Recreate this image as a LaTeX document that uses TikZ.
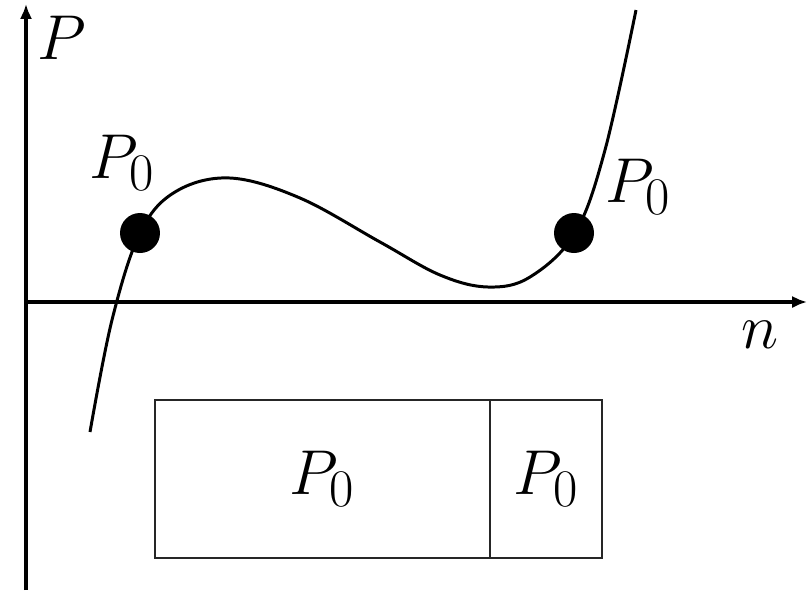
\documentclass[tikz,border=0pt]{standalone}
\usepackage{graphicx}
\usetikzlibrary{arrows.meta}
\newcommand{\sym}[1]{\scalebox{1.45}{$#1$}}
\tikzset{
  lbl/.style={inner sep=0pt, font=\Huge},
  dot/.style={circle, fill=black, minimum size=0.8cm, inner sep=0pt},
  cell/.style={draw=black!85, line width=1.1pt, inner sep=0pt, outer sep=0pt,
               minimum height=3.16cm, font=\Huge}
}
\begin{document}
\begin{tikzpicture}[x=0.02cm, y=-0.02cm, >={Latex[length=8.5pt, width=7pt]}]
\useasboundingbox (0,0) rectangle (810,593);
% axes
\coordinate (o) at (26,302);
\coordinate (ybot) at (26,590);
\coordinate (ytop) at (26,4);
\coordinate (xend) at (807,302);
\draw[->, line width=2.2pt] (ybot) -- (ytop);
\draw[->, line width=2.2pt] (o) -- (xend);
\node[lbl] (plab) at (62,38) {\sym{P}};
\node[lbl] (nlab) at (760,335) {\sym{n}};
% curve
\draw[line width=1.7pt] plot[smooth, tension=0.6] coordinates
  {(90,432) (112,320) (140,233) (175,192) (230,178) (300,198) (380,242)
   (440,275) (488,287) (530,277) (575,233) (605,150) (636,10)};
\node[dot] (d1) at (140,233) {};
\node[dot] (d2) at (574,233) {};
\node[lbl] (l1) at (122,163) {\sym{P_0}};
\node[lbl] (l2) at (638,187) {\sym{P_0}};
% boxes
\node[cell, minimum width=6.7cm] (bl) at (322.5,479) {\sym{P_0}};
\node[cell, minimum width=2.24cm, anchor=west] (br) at (bl.east) {\sym{P_0}};
\end{tikzpicture}
\end{document}
